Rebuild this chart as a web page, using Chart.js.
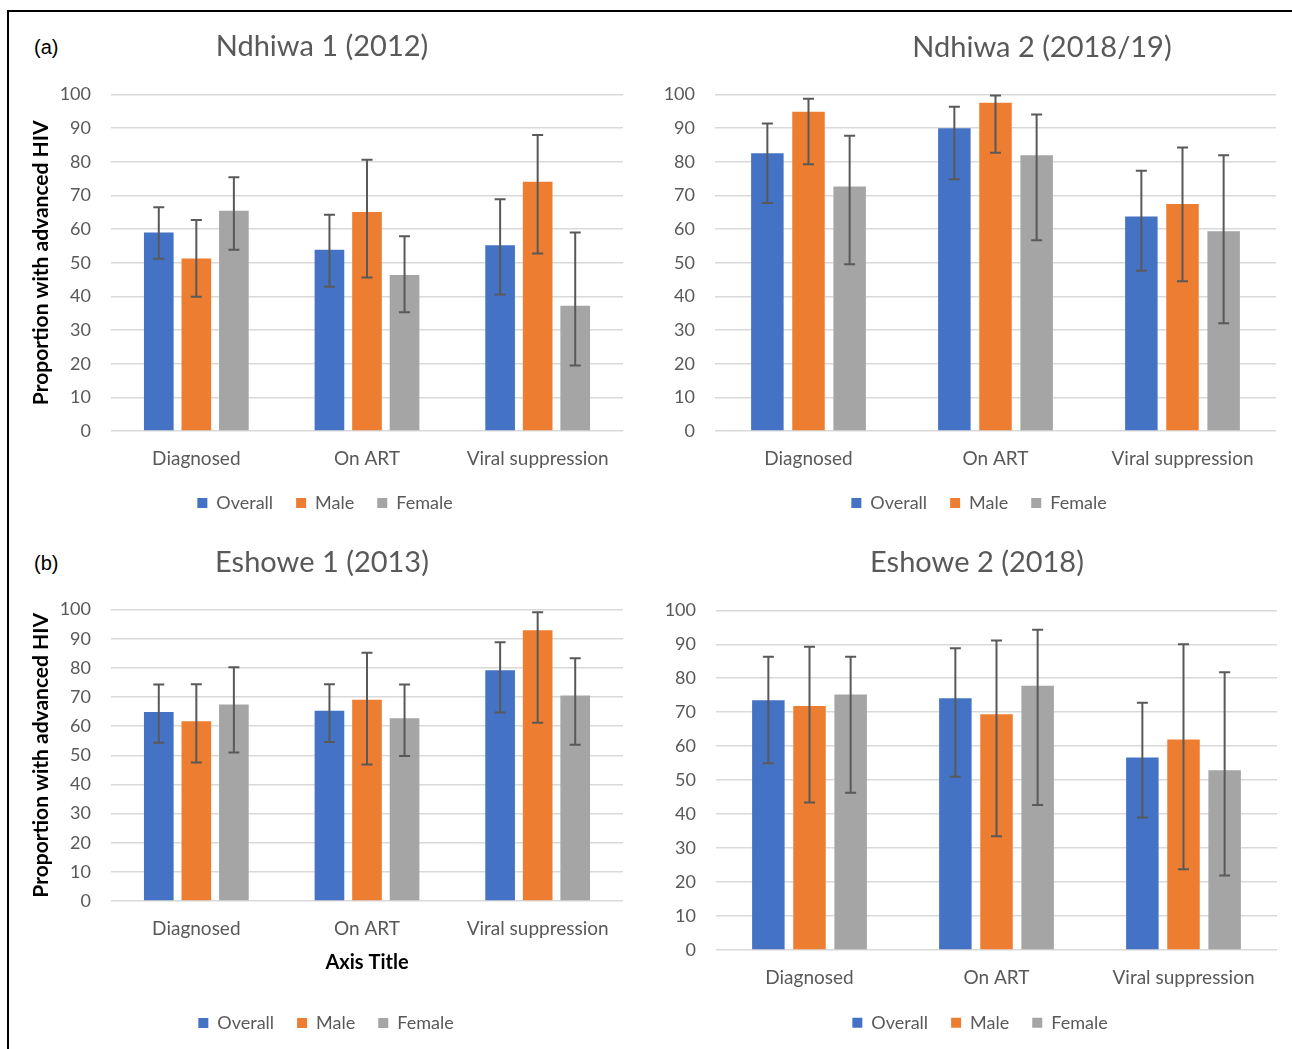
<!DOCTYPE html>
<html>
<head>
<meta charset="utf-8">
<script src="https://cdn.jsdelivr.net/npm/chart.js@4.4.1/dist/chart.umd.min.js"></script>
<style>
  body { margin: 0; background: #fff; width: 1292px; height: 1049px; overflow: hidden; position: relative; }
  #frame { position: absolute; left: 7px; top: 10px; width: 1300px; height: 1100px; border-top: 2px solid #000; border-left: 2px solid #000; }
  .panel { position: absolute; }
  .tag { position: absolute; font: 20px "Liberation Sans", Arial, sans-serif; color: #000; }
</style>
</head>
<body>
<div id="frame"></div>
<div class="tag" style="left:34px; top:36px;">(a)</div>
<div class="tag" style="left:34px; top:552px;">(b)</div>
<canvas id="n1" class="panel" style="left:10px; top:13px;" width="630" height="510"></canvas>
<canvas id="n2" class="panel" style="left:640px; top:13px;" width="650" height="510"></canvas>
<canvas id="e1" class="panel" style="left:10px; top:523px;" width="630" height="524"></canvas>
<canvas id="e2" class="panel" style="left:640px; top:523px;" width="650" height="524"></canvas>
<script>
// categories / series shared by all four panels
var categories = ['Diagnosed', 'On ART', 'Viral suppression'];
var seriesNames = ['Overall', 'Male', 'Female'];
var seriesColors = ['#4472C4', '#ED7D31', '#A5A5A5'];
var yMin = 0, yMax = 100, yStep = 10;

// Ndhiwa 1 (2012)
var n1Overall = [59.0, 53.9, 55.2];
var n1OverallCI = [[51.2, 66.5], [42.9, 64.3], [40.6, 68.9]];
var n1Male = [51.3, 65.1, 74.1];
var n1MaleCI = [[39.9, 62.7], [45.6, 80.6], [52.8, 88.0]];
var n1Female = [65.5, 46.4, 37.2];
var n1FemaleCI = [[53.9, 75.4], [35.3, 57.9], [19.5, 59.0]];

// Ndhiwa 2 (2018/19)
var n2Overall = [82.6, 90.0, 63.8];
var n2OverallCI = [[67.8, 91.4], [74.8, 96.4], [47.6, 77.4]];
var n2Male = [94.9, 97.6, 67.5];
var n2MaleCI = [[79.3, 98.8], [82.7, 99.7], [44.5, 84.3]];
var n2Female = [72.7, 82.0, 59.4];
var n2FemaleCI = [[49.6, 87.8], [56.7, 94.1], [32.0, 82.0]];

// Eshowe 1 (2013)
var e1Overall = [64.9, 65.3, 79.2];
var e1OverallCI = [[54.3, 74.3], [54.6, 74.4], [64.7, 88.8]];
var e1Male = [61.7, 69.1, 92.9];
var e1MaleCI = [[47.5, 74.4], [46.8, 85.2], [61.2, 99.1]];
var e1Female = [67.4, 62.7, 70.5];
var e1FemaleCI = [[51.0, 80.2], [49.8, 74.3], [53.6, 83.3]];

// Eshowe 2 (2018)
var e2Overall = [73.5, 74.1, 56.7];
var e2OverallCI = [[55.0, 86.3], [51.0, 88.8], [39.0, 72.8]];
var e2Male = [71.8, 69.4, 62.0];
var e2MaleCI = [[43.4, 89.3], [33.5, 91.1], [23.8, 90.0]];
var e2Female = [75.2, 77.8, 52.9];
var e2FemaleCI = [[46.3, 86.3], [42.7, 94.3], [21.9, 81.8]];

var textGrey = '#595959';

// whiskers for the confidence intervals, drawn on the y scale
var errorBars = {
    id: 'errorBars',
    afterDatasetsDraw: function (chart) {
        var ctx = chart.ctx;
        var yScale = chart.scales.y;
        ctx.save();
        ctx.strokeStyle = '#595959';
        ctx.lineWidth = 2;
        chart.data.datasets.forEach(function (ds, i) {
            chart.getDatasetMeta(i).data.forEach(function (bar, j) {
                var lo = yScale.getPixelForValue(ds.ci[j][0]);
                var hi = yScale.getPixelForValue(ds.ci[j][1]);
                ctx.beginPath();
                ctx.moveTo(bar.x, lo); ctx.lineTo(bar.x, hi);
                ctx.moveTo(bar.x - 5.5, lo); ctx.lineTo(bar.x + 5.5, lo);
                ctx.moveTo(bar.x - 5.5, hi); ctx.lineTo(bar.x + 5.5, hi);
                ctx.stroke();
            });
        });
        ctx.restore();
    }
};

// Excel had the titles/legends dragged off-centre, so move the blocks after layout
function centreOn(box, cx) {
    if (!box || cx == null) return;
    var w = box.right - box.left;
    box.left = cx - w / 2;
    box.right = cx + w / 2;
}
var placeBlocks = {
    id: 'placeBlocks',
    afterLayout: function (chart, args, opts) {
        centreOn(chart.titleBlock, opts.titleX);
        centreOn(chart.legend, opts.legendX);
    }
};

function makeChart(id, title, overall, overallCI, male, maleCI, female, femaleCI, o) {
    var values = [overall, male, female];
    var cis = [overallCI, maleCI, femaleCI];
    var datasets = seriesNames.map(function (name, i) {
        return {
            label: name,
            data: values[i],
            ci: cis[i],
            backgroundColor: seriesColors[i],
            borderWidth: 0,
            categoryPercentage: 0.66,
            barPercentage: 0.79
        };
    });

    return new Chart(document.getElementById(id), {
        type: 'bar',
        data: { labels: categories, datasets: datasets },
        plugins: [errorBars, placeBlocks],
        options: {
            responsive: false,
            animation: false,
            layout: { padding: { left: 0, right: o.padRight, top: 0, bottom: o.padBottom } },
            plugins: {
                title: {
                    display: true,
                    text: title,
                    color: textGrey,
                    font: { size: 29, weight: 'normal', lineHeight: 1.2 },
                    padding: { top: o.titleTop, bottom: o.titleBottom }
                },
                legend: {
                    position: 'bottom',
                    labels: {
                        boxWidth: 10,
                        boxHeight: 10,
                        padding: 23,
                        color: textGrey,
                        font: { size: 18 }
                    }
                },
                tooltip: { enabled: false },
                placeBlocks: { titleX: o.titleX, legendX: o.legendX }
            },
            scales: {
                x: {
                    grid: { display: false, drawTicks: false },
                    border: { display: false },
                    ticks: { color: textGrey, font: { size: 19 }, padding: 16, maxRotation: 0 },
                    title: {
                        display: !!o.xTitle,
                        text: o.xTitle || '',
                        color: '#000',
                        font: { size: 20, weight: 'bold', lineHeight: 1.2 },
                        padding: { top: 0, bottom: 16.4 }
                    },
                    afterFit: function (s) { s.height = o.xHeight; }
                },
                y: {
                    min: yMin,
                    max: yMax,
                    grid: { color: '#D9D9D9', lineWidth: 1.5, drawTicks: false },
                    border: { display: false },
                    ticks: { stepSize: yStep, color: textGrey, font: { size: 18 }, padding: 20 },
                    title: {
                        display: !!o.yTitle,
                        text: o.yTitle || '',
                        color: '#000',
                        font: { size: 21, weight: 'bold', lineHeight: 1.2 },
                        padding: { top: 18.4, bottom: 0 }
                    },
                    afterFit: function (s) { s.width = o.yWidth; }
                }
            }
        }
    });
}

Chart.defaults.font.family = 'Lato, "Open Sans", sans-serif';

Promise.all([
    document.fonts.load('18px Lato'),
    document.fonts.load('bold 21px Lato')
]).catch(function () {}).then(function () {
    makeChart('n1', 'Ndhiwa 1 (2012)', n1Overall, n1OverallCI, n1Male, n1MaleCI, n1Female, n1FemaleCI, {
        padRight: 17, padBottom: 1, titleTop: 16.6, titleBottom: 30.2,
        yWidth: 101, yTitle: 'Proportion with advanced HIV', xHeight: 40,
        titleX: 312, legendX: 315
    });
    makeChart('n2', 'Ndhiwa 2 (2018/19)', n2Overall, n2OverallCI, n2Male, n2MaleCI, n2Female, n2FemaleCI, {
        padRight: 14, padBottom: 1, titleTop: 17.6, titleBottom: 29.2,
        yWidth: 75, xHeight: 40,
        titleX: 402, legendX: 339
    });
    makeChart('e1', 'Eshowe 1 (2013)', e1Overall, e1OverallCI, e1Male, e1MaleCI, e1Female, e1FemaleCI, {
        padRight: 17, padBottom: 5, titleTop: 22.6, titleBottom: 29.2,
        yWidth: 101, yTitle: 'Proportion with advanced HIV', xHeight: 90, xTitle: 'Axis Title',
        titleX: 312, legendX: 316
    });
    makeChart('e2', 'Eshowe 2 (2018)', e2Overall, e2OverallCI, e2Male, e2MaleCI, e2Female, e2FemaleCI, {
        padRight: 13, padBottom: 5.3, titleTop: 22.6, titleBottom: 29.9,
        yWidth: 76, xHeight: 40.7,
        titleX: 337, legendX: 340
    });
});
</script>
</body>
</html>
